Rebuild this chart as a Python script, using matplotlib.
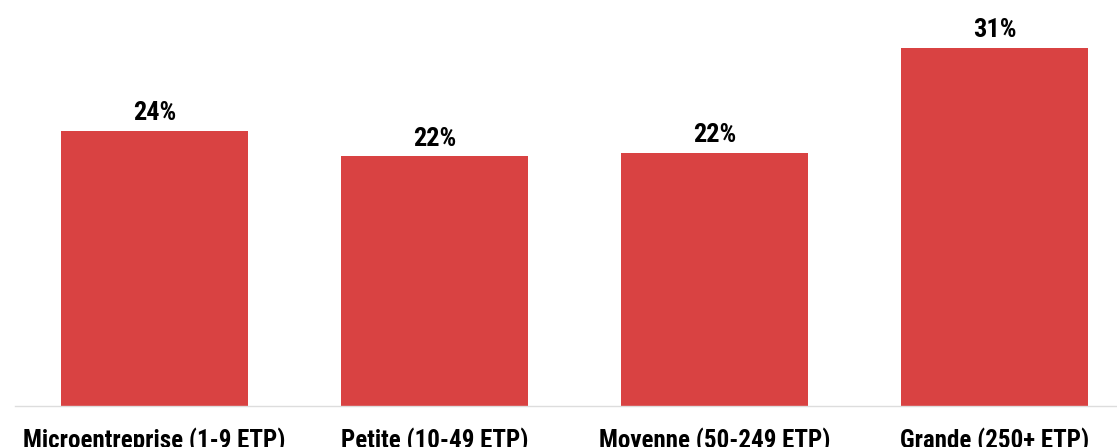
import matplotlib.pyplot as plt

# Part des entreprises par taille
categories = ['Microentreprise (1-9 ETP)', 'Petite (10-49 ETP)',
              'Moyenne (50-249 ETP)', 'Grande (250+ ETP)']
values = [23.8, 21.6, 21.9, 31.0]

bar_color = '#D94242'

plt.rcParams['font.family'] = ['Roboto Condensed', 'DejaVu Sans']

fig = plt.figure(figsize=(11.17, 4.47), dpi=100)
ax = fig.add_axes([15 / 1117, (447 - 405.5) / 447, 1 - 15 / 1117, 405.5 / 447])

x = range(len(categories))
bars = ax.bar(x, values, width=0.667, color=bar_color)

for b, v in zip(bars, values):
    ax.annotate(f'{v:.0f}%', (b.get_x() + b.get_width() / 2, v),
                xytext=(0, 4), textcoords='offset points',
                ha='center', va='bottom', fontsize=19, fontweight='bold')

ax.set_xlim(-0.498, 3.4375)
ax.set_ylim(0, 35.14)
ax.set_xticks(list(x))
ax.set_xticklabels(categories, fontsize=18, fontweight='bold')
ax.tick_params(axis='x', length=0, pad=16)
ax.set_yticks([])
for side in ['top', 'right', 'left']:
    ax.spines[side].set_visible(False)
ax.spines['bottom'].set_color('#DDDDDD')
ax.spines['bottom'].set_linewidth(1)

fig.savefig('out.png', dpi=100)
